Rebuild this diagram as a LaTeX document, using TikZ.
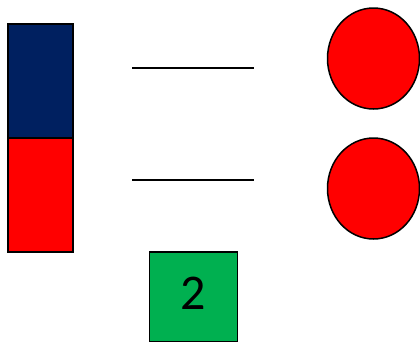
\documentclass[tikz,border=0pt]{standalone}
\usepackage{fontspec}
\setmainfont{Carlito}
\usetikzlibrary{shapes.geometric}
\definecolor{navy}{RGB}{0,32,96}
\definecolor{myred}{RGB}{255,0,0}
\definecolor{mygreen}{RGB}{0,176,80}
\tikzset{
  shape box/.style={draw=black, line width=1.5pt, inner sep=0pt, outer sep=0pt},
  dash line/.style={draw=black, line width=1.5pt},
  blob/.style={ellipse, draw=black, line width=1.5pt, fill=myred, minimum width=92pt, minimum height=101pt, inner sep=0pt},
}
\begin{document}
\begin{tikzpicture}[x=1pt,y=-1pt]
\useasboundingbox (0,0) rectangle (420,341);
\clip (0,0) rectangle (420,341);
\node[shape box, fill=navy, minimum width=65pt, minimum height=114pt] (blue) at (40.5,81) {};
\node[shape box, fill=myred, minimum width=65pt, minimum height=114pt] (red) at (40.5,195) {};
\coordinate (l1a) at (132,68);
\coordinate (l1b) at (254,68);
\coordinate (l2a) at (132,180);
\coordinate (l2b) at (254,180);
\draw[dash line] (l1a) -- (l1b);
\draw[dash line] (l2a) -- (l2b);
\node[blob] (c1) at (373.5,58.5) {};
\node[blob] (c2) at (373.5,188.5) {};
\node[shape box, fill=mygreen, minimum width=88pt, minimum height=90pt] (g) at (193.5,297) {};
\node[font=\fontsize{50}{54}\selectfont, inner sep=0pt] (t) at (193.5,293) {2};
\end{tikzpicture}
\end{document}
